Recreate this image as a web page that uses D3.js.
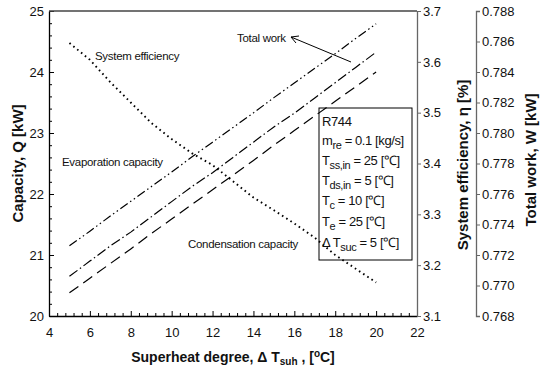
<!DOCTYPE html>
<html>
<head>
<meta charset="utf-8">
<script src="https://cdn.jsdelivr.net/npm/d3@7"></script>
<style>
  body { margin: 0; background: #fff; }
  svg { font-family: "Liberation Sans", Arial, sans-serif; }
</style>
</head>
<body>
<svg id="chart" width="542" height="377"></svg>
<script>
// superheat degree [°C]
const superheat = [5, 6, 7, 8, 9, 10, 11, 12, 13, 14, 15, 16, 17, 18, 19, 20];
// capacities [kW] (left axis)
const evapCapacity = [21.15, 21.39, 21.64, 21.88, 22.12, 22.36, 22.61, 22.85, 23.09, 23.33, 23.58, 23.82, 24.06, 24.30, 24.55, 24.79];
const condCapacity = [20.38, 20.62, 20.86, 21.10, 21.35, 21.59, 21.83, 22.07, 22.31, 22.55, 22.80, 23.04, 23.28, 23.52, 23.76, 24.00];
// system efficiency [%] (right axis)
const sysEfficiency = [3.637, 3.604, 3.560, 3.520, 3.480, 3.448, 3.420, 3.397, 3.365, 3.333, 3.308, 3.282, 3.254, 3.220, 3.193, 3.166];
// total work [kW] (far right axis)
const totalWork = [0.7706, 0.7716, 0.7726, 0.7735, 0.7745, 0.7755, 0.7765, 0.7774, 0.7784, 0.7794, 0.7804, 0.7813, 0.7823, 0.7833, 0.7843, 0.7853];

const xTicks = [4, 6, 8, 10, 12, 14, 16, 18, 20, 22];
const qTicks = [20, 21, 22, 23, 24, 25];
const etaTicks = [3.1, 3.2, 3.3, 3.4, 3.5, 3.6, 3.7];
const wTicks = [0.768, 0.770, 0.772, 0.774, 0.776, 0.778, 0.780, 0.782, 0.784, 0.786, 0.788];

const legendRows = [
  ["R744", "", ""],
  ["m", "re", " = 0.1 [kg/s]"],
  ["T", "ss,in", " = 25 [℃]"],
  ["T", "ds,in", " = 5 [℃]"],
  ["T", "c", " = 10 [℃]"],
  ["T", "e", " = 25 [℃]"],
  ["Δ  T", "suc", " = 5 [℃]"]
];

const svg = d3.select('#chart');
const plotL = 49, plotR = 417, plotT = 11, plotB = 316, wAxisX = 476;

const x = d3.scaleLinear().domain([4, 22]).range([plotL, plotR]);
const yQ = d3.scaleLinear().domain([20, 25]).range([plotB, plotT]);
const yEta = d3.scaleLinear().domain([3.1, 3.7]).range([plotB, plotT]);
const yW = d3.scaleLinear().domain([0.768, 0.788]).range([plotB, plotT]);

const styleAxis = (g, color) => {
  g.select('.domain').attr('stroke', color).attr('stroke-width', 1.3);
  g.selectAll('.tick line').attr('stroke', color);
  g.selectAll('.tick text').attr('fill', '#111').attr('font-size', 13);
};

// x axis
const xMinor = d3.range(4, 22.01, 0.4).filter(v => Math.abs(v / 2 - Math.round(v / 2)) > 1e-6);
svg.append('g').attr('transform', `translate(0,${plotB})`)
  .call(d3.axisBottom(x).tickValues(xMinor).tickSize(-3).tickFormat(''))
  .call(g => g.select('.domain').remove())
  .selectAll('line').attr('stroke', '#000');
svg.append('g').attr('transform', `translate(0,${plotB})`)
  .call(d3.axisBottom(x).tickValues(xTicks).tickSize(-5).tickPadding(12).tickSizeOuter(0).tickFormat(d3.format('d')))
  .call(g => styleAxis(g, '#000'));

// left axis
const qMinor = d3.range(20, 25.01, 0.2).filter(v => Math.abs(v - Math.round(v)) > 1e-6);
svg.append('g').attr('transform', `translate(${plotL},0)`)
  .call(d3.axisLeft(yQ).tickValues(qMinor).tickSize(-3).tickFormat(''))
  .call(g => g.select('.domain').remove())
  .selectAll('line').attr('stroke', '#000');
svg.append('g').attr('transform', `translate(${plotL},0)`)
  .call(d3.axisLeft(yQ).tickValues(qTicks).tickSize(-5).tickPadding(5).tickSizeOuter(0).tickFormat(d3.format('d')))
  .call(g => styleAxis(g, '#000'));

// top frame line
svg.append('line').attr('x1', plotL).attr('x2', plotR).attr('y1', plotT).attr('y2', plotT)
  .attr('stroke', '#444').attr('stroke-width', 1.3);

// efficiency axis
svg.append('g').attr('transform', `translate(${plotR},0)`)
  .call(d3.axisRight(yEta).tickValues(etaTicks).tickSize(4).tickPadding(2).tickSizeOuter(0).tickFormat(d3.format('.1f')))
  .call(g => styleAxis(g, '#666'));

// total work axis
svg.append('g').attr('transform', `translate(${wAxisX},0)`)
  .call(d3.axisRight(yW).tickValues(wTicks).tickSize(4).tickPadding(2).tickSizeOuter(4).tickFormat(d3.format('.3f')))
  .call(g => styleAxis(g, '#666'));

// series
const rows = superheat.map((s, i) => ({s, evap: evapCapacity[i], cond: condCapacity[i], eta: sysEfficiency[i], w: totalWork[i]}));
const series = [
  {key: 'evap', scale: yQ, dash: '9,3,1.5,3,1.5,3', width: 1.2},
  {key: 'w', scale: yW, dash: '10,3,1.5,3', width: 1.2},
  {key: 'cond', scale: yQ, dash: '11,6', width: 1.2},
  {key: 'eta', scale: yEta, dash: '1.6,3.4', width: 1.9}
];
series.forEach(se => {
  svg.append('path')
    .datum(rows)
    .attr('fill', 'none')
    .attr('stroke', '#000')
    .attr('stroke-width', se.width)
    .attr('stroke-dasharray', se.dash)
    .attr('d', d3.line().x(d => x(d.s)).y(d => se.scale(d[se.key])));
});

// annotations
const note = svg.append('g').attr('font-size', 11.5).attr('fill', '#111').attr('letter-spacing', -0.3);
note.append('text').attr('x', 95).attr('y', 60).text('System efficiency');
note.append('text').attr('x', 62).attr('y', 166).text('Evaporation capacity');
note.append('text').attr('x', 188).attr('y', 248).text('Condensation capacity');
note.append('text').attr('x', 237).attr('y', 42).text('Total work');
svg.append('line').attr('x1', 351).attr('y1', 62).attr('x2', 291).attr('y2', 37)
  .attr('stroke', '#000').attr('stroke-width', 1);
svg.append('path').attr('d', 'M299,36 L291,37 L296,43').attr('fill', 'none')
  .attr('stroke', '#000').attr('stroke-width', 1);

// legend box
svg.append('rect').attr('x', 319).attr('y', 108).attr('width', 93).attr('height', 152)
  .attr('fill', 'none').attr('stroke', '#000').attr('stroke-width', 1);
const lg = svg.append('g').attr('font-size', 13).attr('fill', '#111');
const baselines = [126, 145, 165, 185, 205, 226, 247];
legendRows.forEach((r, i) => {
  const t = lg.append('text').attr('x', 322).attr('y', baselines[i]).attr('letter-spacing', -0.4);
  t.append('tspan').text(r[0]);
  if (r[1]) {
    t.append('tspan').attr('font-size', 11).attr('dy', 4).text(r[1]);
    t.append('tspan').attr('dy', -4).text(r[2]);
  }
});

// axis titles
const title = svg.append('g').attr('font-weight', 'bold').attr('font-size', 15).attr('fill', '#111');
title.append('text').attr('text-anchor', 'middle')
  .attr('transform', `translate(23,${(plotT + plotB) / 2}) rotate(-90)`).text('Capacity, Q [kW]');
title.append('text').attr('text-anchor', 'middle')
  .attr('transform', `translate(468,165) rotate(-90)`).text('System efficiency, η  [%]');
title.append('text').attr('text-anchor', 'middle')
  .attr('transform', `translate(536,160) rotate(-90)`).text('Total work, W [kW]');
const xt = title.append('text').attr('text-anchor', 'middle').attr('x', 233).attr('y', 362).attr('font-size', 14);
xt.append('tspan').text('Superheat degree, Δ  T');
xt.append('tspan').attr('font-size', 10).attr('dy', 3).text('suh');
xt.append('tspan').attr('dy', -3).text(' , [');
xt.append('tspan').attr('font-size', 10).attr('dy', -5).text('o');
xt.append('tspan').attr('dy', 5).text('C]');
</script>
</body>
</html>
